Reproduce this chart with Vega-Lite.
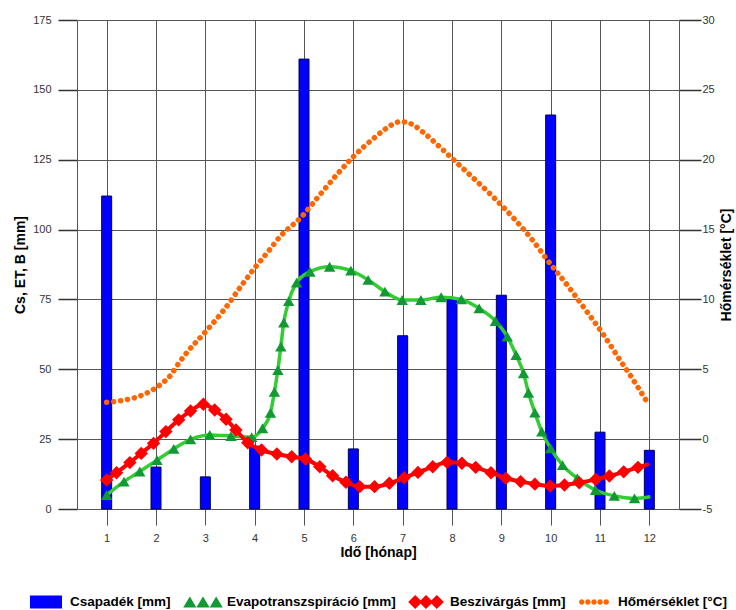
{
  "$schema": "https://vega.github.io/schema/vega-lite/v6.json",
  "width": 602,
  "height": 489,
  "autosize": {"type": "none"},
  "padding": {"left": 77, "top": 20, "right": 57, "bottom": 101},
  "background": "white",
  "config": {
    "font": "Liberation Sans",
    "view": {"stroke": null},
    "axis": {
      "labelFont": "Liberation Sans",
      "labelFontSize": 11,
      "labelColor": "#333333",
      "titleFont": "Liberation Sans",
      "titleFontSize": 14,
      "titleFontWeight": "bold",
      "titleColor": "#000000",
      "gridColor": "#555555",
      "gridOpacity": 1,
      "gridWidth": 1,
      "domainColor": "#555555",
      "domainWidth": 1
    }
  },
  "datasets": {
    "sorozatok": [
      {"series": "Csapadék [mm]"},
      {"series": "Evapotranszspiráció [mm]"},
      {"series": "Beszivárgás [mm]"},
      {"series": "Hőmérséklet [°C]"}
    ],
    "csapadek": [
      {"m": 1, "v": 112}, {"m": 2, "v": 15}, {"m": 3, "v": 11.5}, {"m": 4, "v": 22.5},
      {"m": 5, "v": 161}, {"m": 6, "v": 21.5}, {"m": 7, "v": 62}, {"m": 8, "v": 75},
      {"m": 9, "v": 76.5}, {"m": 10, "v": 141}, {"m": 11, "v": 27.5}, {"m": 12, "v": 21}
    ],
    "et": [
      {"m": 1.00, "v": 5.0, "sym": true}, {"m": 1.35, "v": 9.8, "sym": true},
      {"m": 1.67, "v": 13.4, "sym": true}, {"m": 2.02, "v": 17.5, "sym": true},
      {"m": 2.36, "v": 21.5, "sym": true}, {"m": 2.70, "v": 24.9, "sym": true},
      {"m": 3.09, "v": 26.5, "sym": true}, {"m": 3.52, "v": 26.1, "sym": true},
      {"m": 3.94, "v": 25.7, "sym": true}, {"m": 4.16, "v": 28.9, "sym": true},
      {"m": 4.32, "v": 34.4, "sym": true}, {"m": 4.40, "v": 41.9, "sym": true},
      {"m": 4.47, "v": 49.7, "sym": true}, {"m": 4.53, "v": 58.1, "sym": true},
      {"m": 4.59, "v": 66.7, "sym": true}, {"m": 4.69, "v": 74.4, "sym": true},
      {"m": 4.85, "v": 81.0, "sym": true}, {"m": 5.12, "v": 84.9, "sym": true},
      {"m": 5.52, "v": 86.7, "sym": true}, {"m": 5.95, "v": 85.3, "sym": true},
      {"m": 6.30, "v": 82.0, "sym": true}, {"m": 6.64, "v": 77.8, "sym": true},
      {"m": 6.99, "v": 74.8, "sym": true}, {"m": 7.37, "v": 74.8, "sym": true},
      {"m": 7.78, "v": 75.8, "sym": true}, {"m": 8.19, "v": 75.0, "sym": true},
      {"m": 8.55, "v": 71.8, "sym": true}, {"m": 8.88, "v": 67.3, "sym": true},
      {"m": 9.12, "v": 61.7, "sym": true}, {"m": 9.30, "v": 55.1, "sym": true},
      {"m": 9.45, "v": 48.6, "sym": true}, {"m": 9.55, "v": 41.6, "sym": true},
      {"m": 9.68, "v": 34.5, "sym": true}, {"m": 9.82, "v": 27.7, "sym": true},
      {"m": 10.00, "v": 21.7, "sym": true}, {"m": 10.24, "v": 15.7, "sym": true},
      {"m": 10.54, "v": 11.0, "sym": true}, {"m": 10.91, "v": 6.8, "sym": true},
      {"m": 11.29, "v": 4.7, "sym": true}, {"m": 11.70, "v": 3.8, "sym": true},
      {"m": 12.02, "v": 4.4, "sym": false}
    ],
    "beszivargas": [
      {"m": 1.00, "v": 10.4, "sym": true}, {"m": 1.20, "v": 13.0, "sym": true},
      {"m": 1.47, "v": 16.6, "sym": true}, {"m": 1.70, "v": 19.9, "sym": true},
      {"m": 1.95, "v": 23.5, "sym": true}, {"m": 2.20, "v": 27.7, "sym": true},
      {"m": 2.46, "v": 31.9, "sym": true}, {"m": 2.70, "v": 35.1, "sym": true},
      {"m": 2.96, "v": 37.5, "sym": true}, {"m": 3.19, "v": 35.4, "sym": true},
      {"m": 3.42, "v": 32.1, "sym": true}, {"m": 3.62, "v": 28.3, "sym": true},
      {"m": 3.86, "v": 23.7, "sym": true}, {"m": 4.14, "v": 21.1, "sym": true},
      {"m": 4.45, "v": 19.7, "sym": true}, {"m": 4.75, "v": 18.7, "sym": true},
      {"m": 5.03, "v": 17.9, "sym": true}, {"m": 5.32, "v": 15.1, "sym": true},
      {"m": 5.58, "v": 11.9, "sym": true}, {"m": 5.85, "v": 9.6, "sym": true},
      {"m": 6.13, "v": 8.0, "sym": true}, {"m": 6.43, "v": 8.0, "sym": true},
      {"m": 6.73, "v": 9.2, "sym": true}, {"m": 7.03, "v": 11.2, "sym": true},
      {"m": 7.31, "v": 13.1, "sym": true}, {"m": 7.61, "v": 15.1, "sym": true},
      {"m": 7.90, "v": 16.7, "sym": true}, {"m": 8.20, "v": 16.4, "sym": true},
      {"m": 8.48, "v": 14.9, "sym": true}, {"m": 8.79, "v": 13.0, "sym": true},
      {"m": 9.09, "v": 11.0, "sym": true}, {"m": 9.39, "v": 9.8, "sym": true},
      {"m": 9.68, "v": 8.9, "sym": true}, {"m": 9.99, "v": 8.2, "sym": true},
      {"m": 10.28, "v": 8.6, "sym": true}, {"m": 10.58, "v": 9.4, "sym": true},
      {"m": 10.91, "v": 10.6, "sym": true}, {"m": 11.19, "v": 11.8, "sym": true},
      {"m": 11.48, "v": 13.3, "sym": true}, {"m": 11.77, "v": 14.9, "sym": true},
      {"m": 11.99, "v": 16.1, "sym": false}
    ],
    "homerseklet": [
      {"m": 1.00, "t": 2.64}, {"m": 1.29, "t": 2.75}, {"m": 1.57, "t": 2.97},
      {"m": 1.87, "t": 3.40}, {"m": 2.10, "t": 3.93}, {"m": 2.30, "t": 4.59},
      {"m": 2.46, "t": 5.43}, {"m": 2.64, "t": 6.26}, {"m": 3.00, "t": 7.67},
      {"m": 3.36, "t": 9.17}, {"m": 3.79, "t": 11.27}, {"m": 4.02, "t": 12.34},
      {"m": 4.29, "t": 13.5}, {"m": 4.49, "t": 14.4}, {"m": 4.95, "t": 15.92},
      {"m": 5.32, "t": 17.48}, {"m": 5.69, "t": 19.03}, {"m": 6.00, "t": 20.22},
      {"m": 6.43, "t": 21.58}, {"m": 6.66, "t": 22.22}, {"m": 6.93, "t": 22.70},
      {"m": 7.06, "t": 22.70}, {"m": 7.21, "t": 22.49}, {"m": 7.44, "t": 21.89},
      {"m": 7.67, "t": 21.18}, {"m": 8.00, "t": 20.10}, {"m": 8.40, "t": 18.79},
      {"m": 8.83, "t": 17.35}, {"m": 9.25, "t": 15.81}, {"m": 9.63, "t": 14.25},
      {"m": 9.96, "t": 12.70}, {"m": 10.36, "t": 10.91}, {"m": 10.71, "t": 9.24},
      {"m": 11.06, "t": 7.53}, {"m": 11.38, "t": 5.79}, {"m": 11.71, "t": 4.04},
      {"m": 11.95, "t": 2.68}
    ]
  },
  "layer": [
    {
      "layer": [
        {
          "data": {"name": "csapadek"},
          "mark": {"type": "bar", "size": 10, "fill": "#0000ff", "stroke": "#000055", "strokeWidth": 1},
          "encoding": {
            "x": {
              "field": "m", "type": "quantitative", "title": "Idő [hónap]",
              "scale": {"domain": [0.5, 12.5], "nice": false, "zero": false},
              "axis": {
                "values": [1, 2, 3, 4, 5, 6, 7, 8, 9, 10, 11, 12],
                "grid": true, "domain": false,
                "tickSize": 16, "tickColor": "#555555", "tickWidth": 1,
                "labelPadding": 7, "titlePadding": 2
              }
            },
            "y": {
              "field": "v", "type": "quantitative", "title": "Cs, ET, B [mm]",
              "scale": {"domain": [0, 175], "nice": false},
              "axis": {
                "orient": "left",
                "values": [0, 25, 50, 75, 100, 125, 150, 175],
                "grid": true, "domain": true,
                "tickSize": 19, "tickWidth": 1.5, "tickColor": "#333333",
                "labelPadding": 7, "titlePadding": 5
              }
            }
          }
        },
        {
          "data": {"name": "et"},
          "mark": {"type": "line", "color": "#33cc33", "strokeWidth": 3.5, "interpolate": "monotone"},
          "encoding": {
            "x": {"field": "m", "type": "quantitative", "title": "Idő [hónap]"},
            "y": {"field": "v", "type": "quantitative", "title": "Cs, ET, B [mm]"}
          }
        },
        {
          "data": {"name": "et"},
          "transform": [{"filter": "datum.sym"}],
          "mark": {"type": "point", "shape": "triangle-up", "filled": true, "size": 130, "opacity": 1, "color": "#119933"},
          "encoding": {
            "x": {"field": "m", "type": "quantitative", "title": "Idő [hónap]"},
            "y": {"field": "v", "type": "quantitative", "title": "Cs, ET, B [mm]"}
          }
        },
        {
          "data": {"name": "beszivargas"},
          "mark": {"type": "line", "color": "#ff0000", "strokeWidth": 4, "interpolate": "monotone"},
          "encoding": {
            "x": {"field": "m", "type": "quantitative", "title": "Idő [hónap]"},
            "y": {"field": "v", "type": "quantitative", "title": "Cs, ET, B [mm]"}
          }
        },
        {
          "data": {"name": "beszivargas"},
          "transform": [{"filter": "datum.sym"}],
          "mark": {"type": "point", "shape": "diamond", "filled": true, "size": 180, "opacity": 1, "color": "#ff0000"},
          "encoding": {
            "x": {"field": "m", "type": "quantitative", "title": "Idő [hónap]"},
            "y": {"field": "v", "type": "quantitative", "title": "Cs, ET, B [mm]"}
          }
        },
        {
          "data": {"name": "sorozatok"},
          "mark": {"type": "point", "filled": true, "opacity": 1, "size": 0},
          "encoding": {
            "color": {
              "field": "series", "type": "nominal",
              "scale": {
                "domain": ["Csapadék [mm]", "Evapotranszspiráció [mm]", "Beszivárgás [mm]", "Hőmérséklet [°C]"],
                "range": ["#0000ff", "#119933", "#ff0000", "#ff6600"]
              },
              "legend": {
                "orient": "none",
                "legendX": -50,
                "legendY": 563,
                "direction": "horizontal",
                "columns": 4,
                "gridAlign": "none",
                "title": null,
                "symbolSize": 1296,
                "symbolOpacity": 1,
                "labelFont": "Liberation Sans",
                "labelFontSize": 13.5,
                "labelFontWeight": "bold",
                "labelColor": "#000000",
                "labelOffset": 5,
                "labelLimit": 300,
                "columnPadding": 9
              }
            },
            "shape": {
              "field": "series", "type": "nominal",
              "scale": {
                "domain": ["Csapadék [mm]", "Evapotranszspiráció [mm]", "Beszivárgás [mm]", "Hőmérséklet [°C]"],
                "range": [
                  "M-0.89,-0.36H0.89V0.36H-0.89Z",
                  "M-1.1,0.3L-0.73,-0.3L-0.37,0.3L0,-0.3L0.37,0.3L0.73,-0.3L1.1,0.3Z",
                  "M-0.99,0L-0.6,-0.39L-0.21,0L-0.6,0.39Z M-0.39,0L0,-0.39L0.39,0L0,0.39Z M0.21,0L0.6,-0.39L0.99,0L0.6,0.39Z M-0.9,-0.07H0.9V0.07H-0.9Z",
                  "M-0.83,0a0.15,0.15 0 1,0 0.3,0a0.15,0.15 0 1,0 -0.3,0Z M-0.49,0a0.15,0.15 0 1,0 0.3,0a0.15,0.15 0 1,0 -0.3,0Z M-0.15,0a0.15,0.15 0 1,0 0.3,0a0.15,0.15 0 1,0 -0.3,0Z M0.19,0a0.15,0.15 0 1,0 0.3,0a0.15,0.15 0 1,0 -0.3,0Z M0.53,0a0.15,0.15 0 1,0 0.3,0a0.15,0.15 0 1,0 -0.3,0Z"
                ]
              }
            }
          }
        }
      ]
    },
    {
      "data": {"name": "homerseklet"},
      "mark": {"type": "line", "color": "#ff6600", "strokeWidth": 5.5, "strokeCap": "round", "strokeDash": [0.1, 6.9], "interpolate": "monotone"},
      "encoding": {
        "x": {"field": "m", "type": "quantitative", "title": "Idő [hónap]"},
        "y": {
          "field": "t", "type": "quantitative", "title": "Hőmérséklet [°C]",
          "scale": {"domain": [-5, 30], "nice": false, "zero": false},
          "axis": {
            "orient": "right",
            "values": [-5, 0, 5, 10, 15, 20, 25, 30],
            "labelExpr": "datum.value + ''",
            "grid": false, "domain": true,
            "tickSize": 22, "tickWidth": 1.5, "tickColor": "#333333",
            "labelPadding": 1,
            "titleAngle": 270, "titleBaseline": "top", "titlePadding": 5
          }
        }
      }
    }
  ],
  "resolve": {"scale": {"y": "independent"}}
}
